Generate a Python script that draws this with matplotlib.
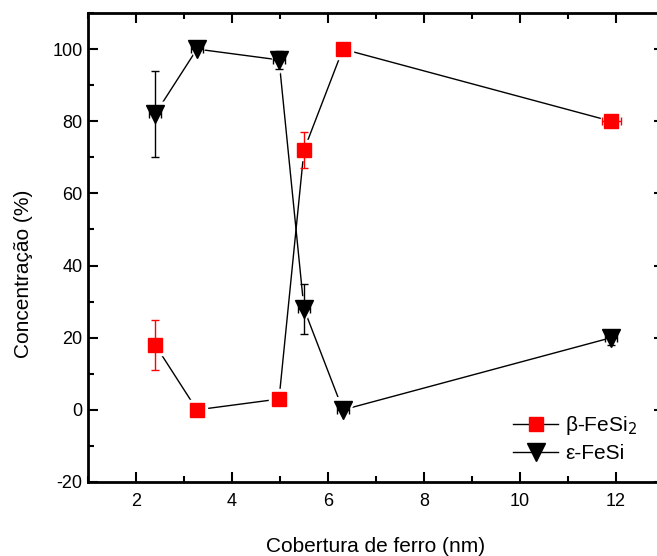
import matplotlib
matplotlib.use("Agg")
import matplotlib.pyplot as plt
from matplotlib.lines import Line2D
from matplotlib.ticker import MultipleLocator

plt.rcParams["font.family"] = ["Liberation Sans", "DejaVu Sans"]
plt.rcParams["axes.unicode_minus"] = False

# cobertura de ferro (nm)
cobertura = [2.4, 3.27, 4.98, 5.5, 6.31, 11.9]

# beta-FeSi2
beta = [18, 0, 3, 72, 100, 80]
beta_yerr = [7, 0, 0, 5, 0, 0]
beta_xerr = [0.1, 0.1, 0.1, 0.1, 0.1, 0.2]

# epsilon-FeSi
eps = [82, 100, 97, 28, 0, 20]
eps_yerr = [12, 0, 2.5, 7, 0, 2]
eps_xerr = [0.12, 0.12, 0.12, 0.12, 0.12, 0.12]

fig = plt.figure(figsize=(6.57, 5.56), dpi=100)
ax = fig.add_axes([88 / 657, 74 / 556, 576 / 657, 469 / 556])

# linhas de ligacao (pretas) com pequeno espaco em volta dos simbolos
ax.plot(cobertura, beta, color="black", lw=1, zorder=1)
ax.plot(cobertura, eps, color="black", lw=1, zorder=1)
ax.plot(cobertura, beta, ls="none", marker="s", ms=14, color="white", zorder=2)
ax.plot(cobertura, eps, ls="none", marker="v", ms=18, color="white", zorder=2)

ax.errorbar(cobertura, beta, yerr=beta_yerr, xerr=beta_xerr, fmt="s", ms=9.5,
            color="red", mec="red", ecolor="red", elinewidth=1, capsize=3, zorder=3)
ax.errorbar(cobertura, eps, yerr=eps_yerr, xerr=eps_xerr, fmt="v", ms=13,
            color="black", ecolor="black", elinewidth=1, capsize=3, zorder=3)

ax.set_xlim(1, 13)
ax.set_ylim(-20, 110)
ax.xaxis.set_major_locator(MultipleLocator(2))
ax.xaxis.set_minor_locator(MultipleLocator(1))
ax.yaxis.set_major_locator(MultipleLocator(20))
ax.yaxis.set_minor_locator(MultipleLocator(10))
ax.tick_params(which="both", direction="in", top=True, right=True, width=1.5,
               labelsize=13)
ax.tick_params(which="major", length=7)
ax.tick_params(which="minor", length=4)
ax.tick_params(axis="x", pad=8)
ax.tick_params(axis="y", pad=4)
for s in ax.spines.values():
    s.set_linewidth(2)

ax.set_xlabel("Cobertura de ferro (nm)", fontsize=15, va="top")
ax.xaxis.set_label_coords(0.5, -0.118)
ax.set_ylabel("Concentração (%)", fontsize=15)
ax.yaxis.set_label_coords(-0.096, 0.443)

handles = [
    Line2D([], [], color="black", lw=1, marker="s", ms=9.5, mfc="red", mec="red"),
    Line2D([], [], color="black", lw=1, marker="v", ms=13, mfc="black", mec="black"),
]
ax.legend(handles, ["β-FeSi$_2$", "ε-FeSi"], loc="lower left",
          bbox_to_anchor=(0.706, 0.0), frameon=False, fontsize=15,
          handlelength=2.15, handletextpad=0.33, labelspacing=0.35)

fig.savefig("out.png", dpi=100)
